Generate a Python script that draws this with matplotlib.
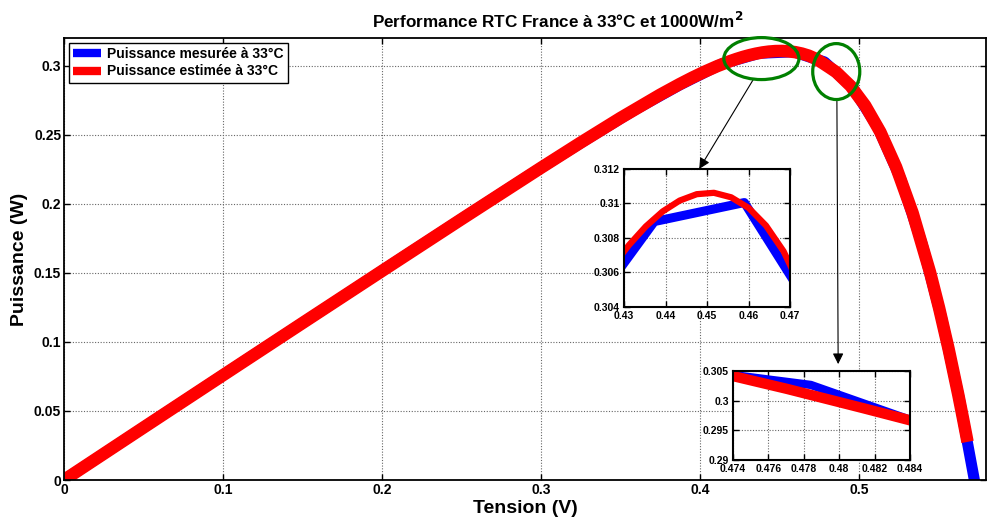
import matplotlib
matplotlib.use("Agg")
import matplotlib.pyplot as plt
from matplotlib.patches import Ellipse
from matplotlib.ticker import FormatStrFormatter

# Données mesurées (RTC France, 33°C)
v_mes = [0.0057, 0.0646, 0.1185, 0.1678, 0.2132, 0.2545, 0.2924, 0.3269, 0.3585,
         0.3873, 0.4137, 0.4373, 0.4590, 0.4784, 0.4960, 0.5119, 0.5265, 0.5398,
         0.5521, 0.5633, 0.5736]
p_mes = [0.004335, 0.049096, 0.089942, 0.127025, 0.161392, 0.192275, 0.220470,
         0.245338, 0.267620, 0.286021, 0.301174, 0.308952, 0.310055, 0.302649,
         0.284208, 0.255438, 0.217445, 0.170847, 0.117045, 0.058302, -0.005736]

# Puissance estimée
v_est = [0.0, 0.05, 0.10, 0.15, 0.20, 0.25, 0.30, 0.325, 0.35, 0.375, 0.38723,
         0.39516, 0.40310, 0.41108, 0.41909, 0.42311, 0.42715, 0.43119, 0.43525,
         0.43932, 0.44342, 0.44753, 0.45166, 0.45581, 0.46000, 0.46421, 0.46845,
         0.47272, 0.47703, 0.48140, 0.48580, 0.49477, 0.50400, 0.51354, 0.52346,
         0.53384, 0.54479, 0.55051, 0.55643, 0.56256, 0.56571, 0.56764]
p_est = [0.0, 0.03797, 0.07584, 0.11362, 0.15129, 0.18881, 0.22599, 0.24426,
         0.26206, 0.27893, 0.28660, 0.29128, 0.29566, 0.29969, 0.30328, 0.30487,
         0.30632, 0.30759, 0.30867, 0.30954, 0.31017, 0.31054, 0.31062, 0.31036,
         0.30975, 0.30872, 0.30723, 0.30505, 0.30200, 0.29870, 0.29530, 0.28532,
         0.27109, 0.25191, 0.22652, 0.19334, 0.15038, 0.12445, 0.09507, 0.06179,
         0.04354, 0.03204]

x_ticks = [0, 0.1, 0.2, 0.3, 0.4, 0.5]
y_ticks = [0, 0.05, 0.1, 0.15, 0.2, 0.25, 0.3]
z1_xticks = [0.43, 0.44, 0.45, 0.46, 0.47]
z1_yticks = [0.304, 0.306, 0.308, 0.31, 0.312]
z2_xticks = [0.474, 0.476, 0.478, 0.48, 0.482, 0.484]
z2_yticks = [0.29, 0.295, 0.3, 0.305]

plt.rcParams['font.family'] = ['Liberation Sans', 'DejaVu Sans']
plt.rcParams['font.weight'] = 'bold'
plt.rcParams['axes.labelweight'] = 'bold'
plt.rcParams['axes.titleweight'] = 'bold'
plt.rcParams['mathtext.default'] = 'bf'


def style_axes(a, fs, lw, xpad=2, ypad=2):
    a.tick_params(direction='in', top=True, right=True, length=4, width=1,
                  labelsize=fs)
    a.tick_params(axis='x', pad=xpad)
    a.tick_params(axis='y', pad=ypad)
    for s in a.spines.values():
        s.set_linewidth(lw)
    a.grid(True, color='0.4', linestyle=(0, (1, 1.5)), linewidth=0.8)
    a.xaxis.set_major_formatter(FormatStrFormatter('%g'))
    a.yaxis.set_major_formatter(FormatStrFormatter('%g'))


fig = plt.figure(figsize=(9.91, 5.22), dpi=100)
ax = fig.add_axes([64 / 991, 42 / 522, 922 / 991, 442 / 522])
ax.plot(v_mes, p_mes, color='b', lw=8, label='Puissance mesurée à 33°C')
ax.plot(v_est, p_est, color='r', lw=9, label='Puissance estimée à 33°C')
ax.set_xlim(0, 0.58)
ax.set_ylim(0, 0.32)
ax.set_xticks(x_ticks)
ax.set_yticks(y_ticks)
style_axes(ax, 10, 1.3)
ax.set_xlabel('Tension (V)', fontsize=14, labelpad=2)
ax.set_ylabel('Puissance (W)', fontsize=14, labelpad=4)
ax.set_title(r'Performance RTC France à 33°C et 1000W/m$^{\mathbf{2}}$',
             fontsize=12.3, x=0.535, pad=7)

leg = ax.legend(loc='upper left', fontsize=10, frameon=True, fancybox=False,
                edgecolor='k', framealpha=1, borderaxespad=0.35,
                handlelength=2.0, handletextpad=0.45, borderpad=0.3,
                labelspacing=0.25)
leg.get_frame().set_linewidth(1.0)
for ln in leg.get_lines():
    ln.set_linewidth(6)
    ln.set_solid_capstyle('butt')

# cercles verts et flèches
ax.add_patch(Ellipse((0.4387, 0.3051), 0.0472, 0.0304, fill=False,
                     edgecolor='green', lw=2.3, clip_on=False, zorder=5))
ax.add_patch(Ellipse((0.4858, 0.2957), 0.0296, 0.0405, fill=False,
                     edgecolor='green', lw=2.3, clip_on=False, zorder=5))
ax.annotate('', xy=(0.3996, 0.2252), xytext=(0.4340, 0.2907),
            arrowprops=dict(arrowstyle='-|>', color='k', lw=0.8,
                            shrinkA=0, shrinkB=0, mutation_scale=16))
ax.annotate('', xy=(0.4870, 0.0839), xytext=(0.4862, 0.2755),
            arrowprops=dict(arrowstyle='-|>', color='k', lw=0.8,
                            shrinkA=0, shrinkB=0, mutation_scale=16))

# zoom 1
ax1 = fig.add_axes([624 / 991, (522 - 307) / 522, 166 / 991, 138 / 522])
ax1.plot(v_mes, p_mes, color='b', lw=6.5)
ax1.plot(v_est, p_est, color='r', lw=4.5)
ax1.set_xlim(0.43, 0.47)
ax1.set_ylim(0.304, 0.312)
ax1.set_xticks(z1_xticks)
ax1.set_yticks(z1_yticks)
style_axes(ax1, 7.5, 1.5, xpad=3, ypad=3)

# zoom 2
ax2 = fig.add_axes([733 / 991, (522 - 460) / 522, 177 / 991, 89 / 522])
ax2.plot(v_mes, p_mes, color='b', lw=6)
ax2.plot(v_est, p_est, color='r', lw=7.5)
ax2.set_xlim(0.474, 0.484)
ax2.set_ylim(0.29, 0.305)
ax2.set_xticks(z2_xticks)
ax2.set_yticks(z2_yticks)
style_axes(ax2, 7.5, 1.5, xpad=3, ypad=3)

fig.savefig('out.png', dpi=100)
